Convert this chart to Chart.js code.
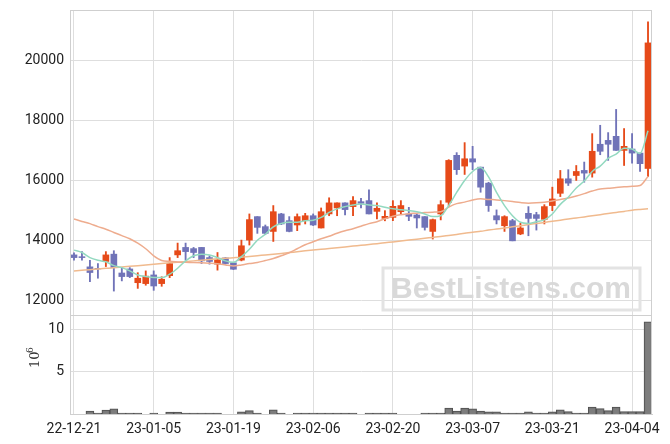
<!DOCTYPE html>
<html>
<head>
<meta charset="utf-8">
<style>
  html, body { margin: 0; padding: 0; background: #fff; }
  #wrap { width: 670px; height: 444px; }
</style>
<script src="https://cdn.jsdelivr.net/npm/chart.js@4/dist/chart.umd.min.js"></script>
</head>
<body>
<div id="wrap"><canvas id="chart" width="670" height="444"></canvas></div>
<script>
/* ============================================================
   DATA
============================================================ */
const dates = [
  '22-12-21','22-12-22','22-12-23','22-12-26','22-12-27','22-12-28','22-12-29',
  '23-01-02','23-01-03','23-01-04','23-01-05','23-01-06','23-01-09','23-01-10','23-01-11','23-01-12','23-01-13',
  '23-01-16','23-01-17','23-01-18','23-01-19','23-01-20','23-01-25','23-01-26','23-01-27','23-01-30','23-01-31',
  '23-02-01','23-02-02','23-02-03','23-02-06','23-02-07','23-02-08','23-02-09','23-02-10','23-02-13','23-02-14',
  '23-02-15','23-02-16','23-02-17','23-02-20','23-02-21','23-02-22','23-02-23','23-02-24','23-02-27','23-02-28',
  '23-03-02','23-03-03','23-03-06','23-03-07','23-03-08','23-03-09','23-03-10','23-03-13','23-03-14','23-03-15',
  '23-03-16','23-03-17','23-03-20','23-03-21','23-03-22','23-03-23','23-03-24','23-03-27','23-03-28','23-03-29',
  '23-03-30','23-03-31','23-04-03','23-04-04','23-04-05','23-04-06'
];

const opens = [
  13510,13450,13110,13060,13290,13535,12905,13040,12580,12550,
  12840,12550,12815,13510,13760,13720,13760,13420,13200,13410,
  13245,13335,14005,14790,14455,14295,14880,14655,14510,14655,
  14820,14410,14880,15080,15250,15125,15290,15325,14965,14730,
  14765,14955,14880,14845,14790,14295,14880,15270,16840,16480,
  16725,16445,15910,14820,14485,14655,14210,14900,14855,14700,
  15160,15570,16055,16165,16335,16245,17210,17340,17475,17005,
  17050,16915,16400
];
const highs = [
  13580,13620,13330,13220,13620,13650,13085,13085,12915,12975,
  12975,12780,13420,13905,13905,13760,13760,13480,13590,13420,
  13250,14005,14880,14790,14510,15160,14900,14790,14880,14900,
  14880,15080,15420,15250,15250,15460,15405,15685,15250,14990,
  15325,15325,15100,14880,14790,14710,15325,16695,16930,17265,
  17140,16445,15940,15015,14820,14700,14565,15125,14935,15190,
  15775,16335,16360,16500,16615,17565,17845,17600,18375,17735,
  17565,16915,21305
];
const lows = [
  13330,13330,12615,12730,13120,12300,12640,12750,12390,12495,
  12325,12460,12750,13420,13335,13420,13220,13200,13000,13200,
  13020,13310,13840,14230,14185,13960,14520,14280,14320,14545,
  14490,14410,14820,14820,14845,14820,15080,14880,14710,14650,
  14655,14880,14655,14410,14340,14040,14680,15160,16200,16200,
  16360,15605,14965,14545,14295,13980,14185,14150,14340,14545,
  14990,15460,15830,16000,15940,16110,16860,16670,17005,16500,
  16580,16300,16135
];
const closes = [
  13420,13420,12920,13040,13510,13085,12785,12785,12730,12800,
  12470,12695,13220,13650,13620,13590,13310,13290,13345,13220,
  13030,13815,14690,14430,14230,14955,14545,14295,14790,14820,
  14510,14955,15250,15250,15025,15325,15235,14880,15070,14800,
  15135,15160,14800,14745,14430,14690,15190,16670,16360,16725,
  16615,15775,15160,14680,14790,13980,14410,14730,14730,15125,
  15380,16055,15910,16300,16245,16975,16975,17210,17005,17140,
  16915,16560,20600
];

// 거래량 (백만 주)
const volumes = [
  0,0,0.35,0.1,0.47,0.6,0.1,0.1,0.1,0,
  0.1,0,0.23,0.23,0.1,0.1,0.1,0.1,0.1,0,
  0,0.27,0.4,0.1,0,0.5,0.1,0,0.1,0.1,
  0.1,0.1,0.1,0.1,0.1,0.1,0,0.1,0.1,0.1,
  0.1,0,0,0,0.1,0.1,0.1,0.7,0.35,0.7,
  0.6,0.35,0.25,0.25,0.1,0.1,0.1,0.25,0.1,0.1,
  0.25,0.5,0.28,0.1,0.1,0.82,0.63,0.4,0.82,0.28,
  0.28,0.28,10.9
];

const ma5 = [
  13670,13590,13420,13330,13280,13150,13085,12975,12840,12785,
  12750,12750,12865,13065,13310,13480,13535,13510,13420,13310,
  13260,13450,13700,14000,14200,14450,14560,14600,14600,14650,
  14670,14765,14930,15050,15125,15180,15215,15180,15160,15100,
  15050,15020,14990,14950,14880,14790,14820,15160,15600,16000,
  16300,16430,16120,15600,15160,14820,14600,14560,14620,14680,
  14880,15200,15440,15750,15980,16300,16480,16740,16880,17080,
  17050,16900,17660
];
const ma20 = [
  14710,14630,14555,14455,14370,14260,14155,14050,13900,13715,
  13480,13325,13295,13270,13260,13255,13245,13230,13210,13175,
  13140,13175,13220,13255,13320,13390,13480,13580,13715,13850,
  13950,14050,14135,14235,14320,14385,14470,14555,14620,14720,
  14805,14855,14890,14905,14930,14940,14955,15110,15225,15275,
  15345,15385,15365,15350,15325,15295,15260,15240,15250,15270,
  15310,15360,15410,15480,15560,15645,15715,15735,15765,15785,
  15805,15830,16130
];
const ma60 = [
  12975,12995,13015,13040,13060,13080,13105,13130,13150,13175,
  13200,13225,13245,13265,13285,13310,13330,13355,13380,13400,
  13415,13430,13455,13480,13510,13535,13560,13590,13615,13645,
  13670,13695,13725,13750,13775,13805,13830,13860,13885,13915,
  13945,13975,14005,14035,14065,14095,14125,14160,14195,14230,
  14270,14300,14340,14375,14410,14450,14485,14525,14560,14595,
  14635,14670,14710,14745,14780,14820,14855,14895,14930,14965,
  15005,15030,15050
];

const priceTicks = [12000, 14000, 16000, 18000, 20000];
const volTicks = [5, 10];

/* ============================================================
   STYLE
============================================================ */
const UP = '#e64a19';
const DOWN = '#7073b8';
const GRID = '#dedede';
const FONT = { family: 'Roboto', size: 14 };

const candleColors = closes.map((c, i) => c >= opens[i] ? UP : DOWN);

// 세로축 폭 고정 + 라벨 여백 제거
const fitY = s => {
  s.width = 70;
  s.paddingTop = 0;
  s.paddingBottom = 0;
};

/* ============================================================
   PLUGINS
============================================================ */
// 프레임 + 패널 구분선
const framePlugin = {
  id: 'frame',
  afterDatasetsDraw(chart) {
    const { ctx, chartArea: a, scales } = chart;
    ctx.save();
    ctx.strokeStyle = '#cfcfcf';
    ctx.lineWidth = 1;
    ctx.strokeRect(a.left + 0.5, a.top + 0.5, a.right - a.left - 1, a.bottom - a.top);
    const yDiv = Math.round(scales.y.bottom) + 0.5;
    ctx.beginPath();
    ctx.moveTo(a.left, yDiv);
    ctx.lineTo(a.right, yDiv);
    ctx.stroke();
    ctx.restore();
  }
};

// 워터마크 + 10^6 라벨
const decoPlugin = {
  id: 'deco',
  beforeDatasetsDraw(chart) {
    const { ctx } = chart;
    ctx.save();
    ctx.strokeStyle = '#e3e3e3';
    ctx.lineWidth = 3;
    ctx.strokeRect(383, 268, 257, 42);
    ctx.fillStyle = '#d9d9d9';
    ctx.font = 'bold 34px "Liberation Sans"';
    const w = ctx.measureText('BestListens.com').width;
    const size = 34 * 240 / w;
    ctx.font = `bold ${size}px "Liberation Sans"`;
    ctx.textAlign = 'center';
    ctx.textBaseline = 'middle';
    ctx.fillText('BestListens.com', 511, 290);
    ctx.restore();
  },
  afterDraw(chart) {
    const { ctx } = chart;
    ctx.save();
    ctx.translate(36, 360);
    ctx.rotate(-Math.PI / 2);
    ctx.fillStyle = '#333';
    ctx.textBaseline = 'middle';
    ctx.font = '13px "DejaVu Serif"';
    ctx.fillText('10', -8, 0);
    ctx.font = '9px "DejaVu Serif"';
    ctx.fillText('6', 7, -5);
    ctx.restore();
  }
};

/* ============================================================
   CHART
============================================================ */
new Chart(document.getElementById('chart'), {
  data: {
    labels: dates,
    datasets: [
      {
        type: 'line', label: 'MA5', data: ma5, yAxisID: 'y', order: 0,
        borderColor: '#93d9c0', borderWidth: 1.5, pointRadius: 0,
        cubicInterpolationMode: 'monotone'
      },
      {
        type: 'line', label: 'MA20', data: ma20, yAxisID: 'y', order: 0,
        borderColor: '#eeac8e', borderWidth: 1.5, pointRadius: 0,
        cubicInterpolationMode: 'monotone'
      },
      {
        type: 'line', label: 'MA60', data: ma60, yAxisID: 'y', order: 0,
        borderColor: '#f0ba8e', borderWidth: 1.5, pointRadius: 0,
        cubicInterpolationMode: 'monotone'
      },
      {
        type: 'bar', label: 'wick', yAxisID: 'y', order: 2, grouped: false,
        data: lows.map((l, i) => [l, highs[i]]),
        backgroundColor: candleColors, barThickness: 1.2, borderSkipped: false
      },
      {
        type: 'bar', label: 'body', yAxisID: 'y', order: 1, grouped: false,
        data: opens.map((o, i) => [o, closes[i]]),
        backgroundColor: candleColors, barThickness: 6, borderSkipped: false
      },
      {
        type: 'bar', label: 'volume', yAxisID: 'yv', order: 1, grouped: false,
        data: volumes,
        backgroundColor: 'rgba(118,118,118,0.95)', borderColor: '#505050', borderWidth: 1,
        barPercentage: 1, categoryPercentage: 1
      }
    ]
  },
  options: {
    responsive: false,
    animation: false,
    layout: { padding: { left: 0, top: 10, right: 18, bottom: 0 } },
    plugins: { legend: { display: false }, tooltip: { enabled: false } },
    scales: {
      x: {
        type: 'category',
        offset: true,
        grid: { color: GRID, offset: false, drawTicks: false },
        border: { color: '#cfcfcf' },
        ticks: {
          autoSkip: false, maxRotation: 0, padding: 7,
          color: '#222', font: FONT,
          callback: (v, i) => i % 10 === 0 ? dates[i] : null
        },
        afterFit: s => { s.height = 30; }
      },
      yv: {
        type: 'linear', position: 'left', stack: 'panel', stackWeight: 99,
        min: 0, max: 11.7,
        grid: { color: GRID, drawTicks: false },
        border: { color: '#cfcfcf' },
        ticks: { color: '#222', font: FONT, padding: 6, callback: v => String(v) },
        afterBuildTicks: s => { s.ticks = volTicks.map(v => ({ value: v })); },
        afterFit: fitY
      },
      y: {
        type: 'linear', position: 'left', stack: 'panel', stackWeight: 305,
        min: 11500, max: 21700,
        grid: { color: GRID, drawTicks: false },
        border: { color: '#cfcfcf' },
        ticks: { color: '#222', font: FONT, padding: 6, callback: v => String(v) },
        afterBuildTicks: s => { s.ticks = priceTicks.map(v => ({ value: v })); },
        afterFit: fitY
      }
    }
  },
  plugins: [framePlugin, decoPlugin]
});
</script>
</body>
</html>
